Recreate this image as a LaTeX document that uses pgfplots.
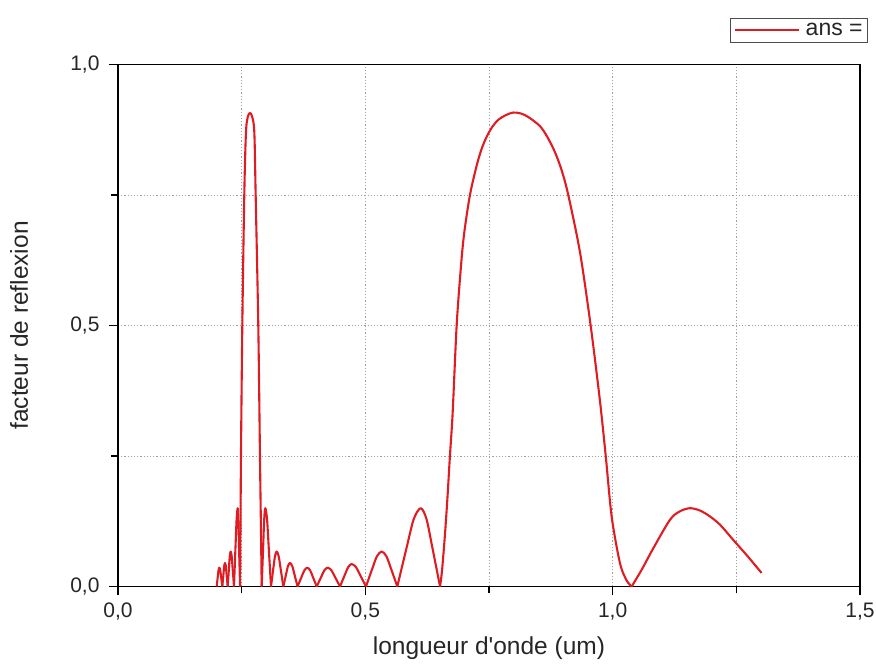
\documentclass[border=0pt]{standalone}
\usepackage{pgfplots}
\pgfplotsset{compat=1.18}
\usepackage{fontspec}
\setmainfont{Liberation Sans}[Ligatures=TeXOff]
\definecolor{curve}{RGB}{222,28,34}
\definecolor{gridc}{RGB}{160,160,160}
\pgfplotsset{cv/.style={curve, line width=2.1pt, smooth, tension=0.5, line join=round}}
\begin{document}
\begin{tikzpicture}
\path[use as bounding box] (-118pt,-79.5pt) rectangle (758pt,586.5pt);
\begin{axis}[
  at={(0pt,0pt)}, anchor=south west,
  scale only axis, width=742pt, height=522pt,
  xmin=0, xmax=1.5, ymin=0, ymax=1,
  clip=false,
  xtick={0,0.5,1,1.5}, minor xtick={0.25,0.75,1.25},
  ytick={0,0.5,1}, minor ytick={0.25,0.75},
  xtick pos=bottom, ytick pos=left,
  tick align=outside,
  major tick length=9pt, minor tick length=7pt,
  every tick/.style={black, line width=1.2pt},
  grid=both,
  major grid style={gridc, line width=0.8pt, dash pattern=on 1.2pt off 2pt},
  minor grid style={gridc, line width=0.8pt, dash pattern=on 1.2pt off 2pt},
  axis line style={black, line width=1.6pt},
  /pgf/number format/.cd, use comma, fixed, fixed zerofill, precision=1, assume math mode=true,
  /pgfplots/.cd,
  tick label style={font=\fontsize{21}{25}\selectfont, black!85},
  xticklabel style={yshift=-4pt},
  yticklabel style={xshift=-6pt},
  xlabel={longueur d'onde (um)},
  ylabel={facteur de reflexion},
  label style={font=\fontsize{24.5}{28}\selectfont, black!85},
  xlabel style={at={(rel axis cs:0.5,0)}, anchor=base, yshift=-68pt},
  ylabel style={at={(rel axis cs:0,0.5)}, anchor=center, yshift=99pt},
  legend style={at={(1.0108,1.0897)}, anchor=north east, draw=black!70, line width=0.8pt,
    font=\fontsize{23}{26}\selectfont, inner xsep=3pt, inner ysep=3pt,
    nodes={inner sep=2pt, text=black!85}},
  legend cell align=left,
  legend image code/.code={\draw[#1] (0pt,0pt) -- (64pt,0pt);},
]
\addplot[cv] coordinates {(0.1995,0) (0.2016,0.018) (0.2032,0.031) (0.2048,0.036) (0.2066,0.031) (0.2085,0.018) (0.2109,0)};
\addlegendentry{\hspace{4pt}ans =}
\addplot[cv, forget plot] coordinates {(0.2109,0) (0.2131,0.0225) (0.2147,0.039) (0.2163,0.045) (0.2180,0.039) (0.2196,0.0225) (0.2218,0)};
\addplot[cv, forget plot] coordinates {(0.2218,0) (0.2242,0.034) (0.2260,0.058) (0.2278,0.067) (0.2298,0.058) (0.2318,0.034) (0.2345,0)};
\addplot[cv, forget plot] coordinates {(0.2345,0) (0.2375,0.075) (0.2398,0.129) (0.2420,0.15) (0.2434,0.129) (0.2447,0.075) (0.2468,0)};
\addplot[cv, forget plot] coordinates {(0.2468,0) (0.2477,0.12) (0.2486,0.25) (0.2513,0.5) (0.2553,0.75) (0.2587,0.87) (0.2625,0.90) (0.2668,0.907)
 (0.2712,0.90) (0.2756,0.87) (0.2783,0.75) (0.2836,0.5) (0.2870,0.25) (0.2890,0.11) (0.2905,0)};
\addplot[cv, forget plot] coordinates {(0.2905,0) (0.2934,0.075) (0.2956,0.129) (0.2978,0.15) (0.3013,0.129) (0.3047,0.075) (0.3093,0)};
\addplot[cv, forget plot] coordinates {(0.3093,0) (0.3139,0.034) (0.3174,0.058) (0.3208,0.067) (0.3248,0.058) (0.3288,0.034) (0.3342,0)};
\addplot[cv, forget plot] coordinates {(0.3342,0) (0.3396,0.0225) (0.3436,0.039) (0.3477,0.045) (0.3523,0.039) (0.3569,0.0225) (0.3630,0)};
\addplot[cv, forget plot] coordinates {(0.3630,0) (0.3709,0.018) (0.3768,0.031) (0.3827,0.036) (0.3884,0.031) (0.3941,0.018) (0.4017,0)};
\addplot[cv, forget plot] coordinates {(0.4017,0) (0.4106,0.018) (0.4172,0.031) (0.4239,0.036) (0.4314,0.031) (0.4388,0.018) (0.4488,0)};
\addplot[cv, forget plot] coordinates {(0.4488,0) (0.4582,0.0215) (0.4653,0.037) (0.4724,0.043) (0.4811,0.037) (0.4897,0.0215) (0.5013,0)};
\addplot[cv, forget plot] coordinates {(0.5013,0) (0.5140,0.034) (0.5235,0.058) (0.5330,0.067) (0.5425,0.058) (0.5520,0.034) (0.5646,0)};
\addplot[cv, forget plot] coordinates {(0.5646,0) (0.5836,0.075) (0.5978,0.129) (0.6120,0.15) (0.6237,0.129) (0.6354,0.075) (0.6510,0)};
\addplot[cv, forget plot] coordinates {(0.6510,0) (0.6550,0.03) (0.6610,0.10) (0.6660,0.17) (0.6710,0.25) (0.6765,0.332) (0.6846,0.5) (0.6934,0.614)
 (0.7000,0.678) (0.7115,0.75) (0.7250,0.806) (0.7350,0.838) (0.7450,0.861) (0.7570,0.881) (0.7700,0.895) (0.7840,0.903)
 (0.7990,0.908) (0.8150,0.906) (0.8300,0.899) (0.8530,0.882) (0.8680,0.861) (0.8834,0.832) (0.8970,0.797) (0.9100,0.751)
 (0.9340,0.640) (0.9555,0.5) (0.9740,0.358) (0.9860,0.25) (0.9980,0.134) (1.0147,0.045) (1.0280,0.012) (1.0384,0)};
\addplot[cv, forget plot] coordinates {(1.0384,0) (1.0586,0.032) (1.0820,0.073) (1.1160,0.128) (1.1360,0.144) (1.1563,0.150) (1.1765,0.1455)
 (1.1970,0.134) (1.2174,0.118) (1.2440,0.089) (1.2710,0.060) (1.3010,0.026)};
\end{axis}
\end{tikzpicture}
\end{document}
